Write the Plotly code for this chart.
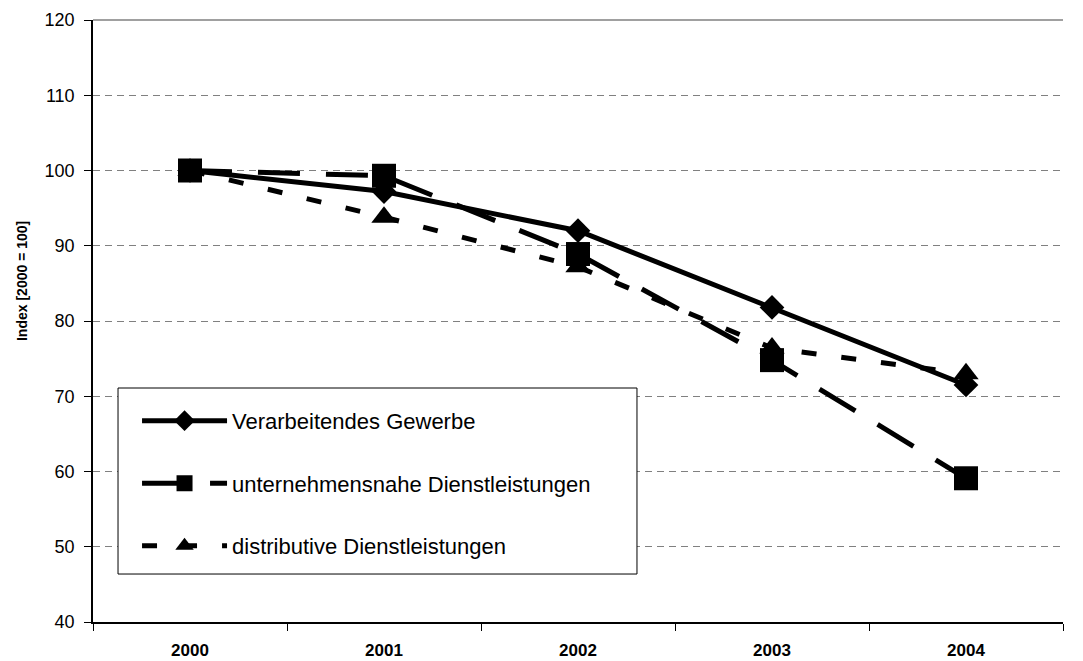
import plotly.graph_objects as go

years = ["2000", "2001", "2002", "2003", "2004"]
verarbeitendes = [100, 97.2, 92.0, 81.8, 71.5]
unternehmensnahe = [100, 99.3, 88.9, 74.8, 59.1]
distributive = [100, 93.8, 87.2, 76.4, 73.0]

names = ["Verarbeitendes Gewerbe", "unternehmensnahe Dienstleistungen", "distributive Dienstleistungen"]
y_ticks = [40, 50, 60, 70, 80, 90, 100, 110, 120]
y_title = "Index [2000 = 100]"

FONT = "Arial, Liberation Sans, sans-serif"

fig = go.Figure()
fig.add_trace(go.Scatter(
    x=years, y=verarbeitendes, name=names[0], mode="lines+markers",
    line=dict(color="black", width=5), legendrank=1, legendgroup="a",
    marker=dict(symbol="diamond", size=19, color="black")))
fig.add_trace(go.Scatter(
    x=years, y=distributive, name=names[2], mode="lines+markers",
    line=dict(color="black", width=5, dash="15px,25px"), legendrank=3, legendgroup="c",
    marker=dict(symbol="triangle-up", size=22, color="black")))
fig.add_trace(go.Scatter(
    x=years, y=unternehmensnahe, name=names[1], mode="lines+markers",
    line=dict(color="black", width=5, dash="42px,26px"), legendrank=2, legendgroup="b",
    marker=dict(symbol="square", size=24, color="black")))

# legend box
fig.add_shape(type="rect", xref="paper", yref="paper", x0=0.0258, x1=0.5608, y0=0.0797, y1=0.3887,
              line=dict(color="black", width=1), fillcolor="white", layer="above")
# top border
fig.add_shape(type="line", xref="paper", yref="paper", x0=0, x1=1, y0=1, y1=1,
              line=dict(color="#808080", width=1.5), layer="below")

fig.add_annotation(text="<b>" + y_title + "</b>", xref="paper", yref="paper",
                   x=-0.0732, y=0.5664, xanchor="center", yanchor="middle",
                   textangle=-90, showarrow=False, font=dict(size=14, family=FONT, color="black"))

fig.update_layout(
    width=1075, height=653,
    margin=dict(l=85, r=20, t=12, b=39),
    paper_bgcolor="white", plot_bgcolor="white",
    font=dict(family=FONT, color="black"),
    showlegend=True,
    legend=dict(x=0.0454, y=0.369, xanchor="left", yanchor="top",
                bgcolor="rgba(0,0,0,0)", borderwidth=0,
                font=dict(size=22, family=FONT, color="black"),
                itemwidth=85, tracegroupgap=31, traceorder="grouped"),
    xaxis=dict(type="category", categoryorder="array", categoryarray=years,
               range=[-0.5, 4.5], tickson="boundaries", ticks="outside", ticklen=7,
               tickcolor="black", showline=True, linecolor="black", linewidth=2,
               showgrid=False, zeroline=False, automargin=False, ticklabelstandoff=12,
               tickfont=dict(size=17, family=FONT, weight="bold")),
    yaxis=dict(range=[40, 120], tickvals=y_ticks, ticks="outside", ticklen=7, tickcolor="black",
               showline=True, linecolor="black", linewidth=1.5, zeroline=False, automargin=False,
               showgrid=True, gridcolor="#808080", gridwidth=1, griddash="7px,5px",
               ticklabelstandoff=6,
               tickfont=dict(size=18, family=FONT)),
)

fig.write_html("out.html")
